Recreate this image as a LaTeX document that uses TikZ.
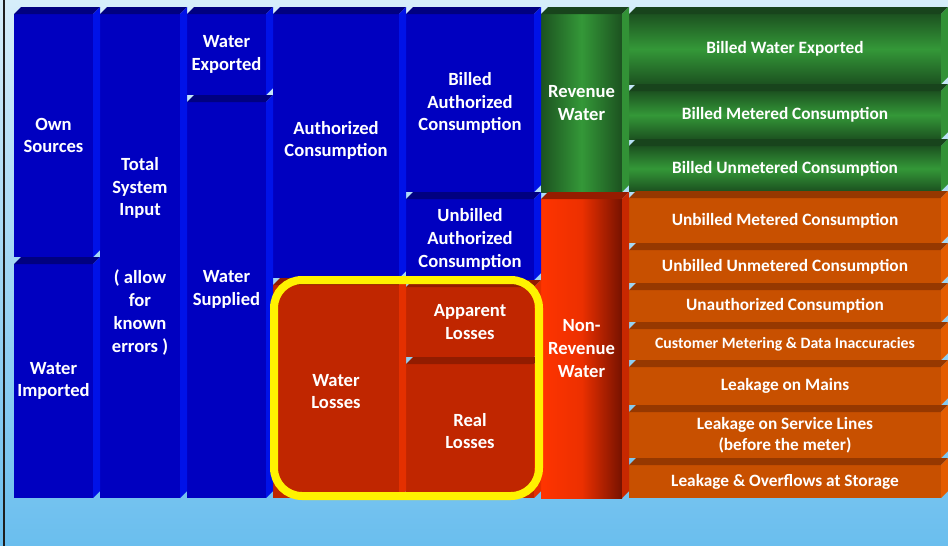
\documentclass[tikz,border=0pt]{standalone}
\usepackage{fontspec}
\setmainfont{Carlito}
\usetikzlibrary{shadings}

\definecolor{skytop}{RGB}{214,238,250}
\definecolor{skybot}{RGB}{106,190,238}
\definecolor{frameline}{RGB}{30,30,30}
\definecolor{blueface}{RGB}{0,0,192}
\definecolor{bluetop}{RGB}{0,0,128}
\definecolor{blueside}{RGB}{0,18,232}
\definecolor{grdark}{RGB}{28,82,32}
\definecolor{grlight}{RGB}{52,152,56}
\definecolor{grtop}{RGB}{24,68,28}
\definecolor{grside}{RGB}{50,146,54}
\definecolor{nrwleft}{RGB}{255,52,0}
\definecolor{nrwmid}{RGB}{236,48,0}
\definecolor{nrwright}{RGB}{118,18,0}
\definecolor{nrwtop}{RGB}{150,28,0}
\definecolor{nrwside}{RGB}{200,40,0}
\definecolor{orface}{RGB}{200,80,0}
\definecolor{ortop}{RGB}{150,56,0}
\definecolor{orside}{RGB}{228,92,0}
\definecolor{lossface}{RGB}{192,38,0}
\definecolor{losstop}{RGB}{146,28,0}
\definecolor{lossside}{RGB}{228,48,0}

\tikzstyle{cell} = [inner sep=0, outer sep=0, anchor=north west, align=center, text=white, font=\bfseries\fontsize{18.6}{22.8}\selectfont]
\tikzstyle{bluecell} = [cell, fill=blueface]
\tikzstyle{losscell} = [cell, fill=lossface]
\tikzstyle{rowtext} = [font=\bfseries\fontsize{17.3}{21}\selectfont, minimum width=312pt]
\tikzstyle{greenrow} = [cell, rowtext, top color=grdark, bottom color=grdark, middle color=grlight]
\tikzstyle{orangerow} = [cell, rowtext, fill=orface]
\tikzstyle{lossframe} = [draw=yellow, line width=8pt, rounded corners=28pt]

% top and right faces of a block: node, top colour, side colour
\newcommand{\bevel}[3]{%
  \fill[#2] (#1.north west) -- ++(7pt,7pt) -- ([shift={(7pt,7pt)}]#1.north east) -- (#1.north east) -- cycle;
  \fill[#3] (#1.north east) -- ++(7pt,7pt) -- ([shift={(7pt,7pt)}]#1.south east) -- (#1.south east) -- cycle;
}

\begin{document}
\begin{tikzpicture}[x=1pt, y=-1pt]
  \useasboundingbox (0,0) rectangle (948,546);
  \shade[top color=skytop, bottom color=skybot] (0,0) rectangle (948,546);
  \draw[line width=2pt, frameline] (4,0) -- (4,546);

  % input side
  \node[bluecell, minimum width=79pt, minimum height=243pt] (own) at (14,14) {Own\\Sources};
  \node[bluecell, minimum width=79pt, minimum height=234pt] (imported) at (14,264) {Water\\Imported};
  \node[bluecell, minimum width=80pt, minimum height=484pt] (tsi) at (100,14) {Total\\System\\Input\\[45pt]( allow\\for\\known\\errors )};
  \node[bluecell, minimum width=79pt, minimum height=81pt] (exported) at (187,14) {Water\\Exported};
  \node[bluecell, minimum width=79pt, minimum height=396pt, text depth=24pt] (supplied) at (187,102) {Water\\Supplied};

  % consumption and losses
  \node[bluecell, minimum width=126pt, minimum height=264pt, text depth=14pt] (auth) at (273,14) {Authorized\\Consumption};
  \node[losscell, minimum width=126pt, minimum height=213pt] (losses) at (273,285) {Water\\Losses};
  \node[bluecell, minimum width=128pt, minimum height=178pt] (bauth) at (406,14) {Billed\\Authorized\\Consumption};
  \node[bluecell, minimum width=128pt, minimum height=81pt] (ubauth) at (406,199) {Unbilled\\Authorized\\Consumption};
  \node[losscell, minimum width=128pt, minimum height=70pt] (apparent) at (406,287) {Apparent\\Losses};
  \node[losscell, minimum width=128pt, minimum height=134pt] (real) at (406,364) {Real\\Losses};

  % revenue
  \node[cell, minimum width=81pt, minimum height=178pt, left color=grdark, right color=grdark, middle color=grlight] (revenue) at (541,14) {Revenue\\Water};
  \node[cell, minimum width=81pt, minimum height=299pt, left color=nrwleft, right color=nrwright, middle color=nrwmid] (nrw) at (541,199) {Non-\\Revenue\\Water};

  % components
  \node[greenrow, minimum height=70pt] (bwe) at (629,14) {Billed Water Exported};
  \node[greenrow, minimum height=48pt] (bmc) at (629,91) {Billed Metered Consumption};
  \node[greenrow, minimum height=45pt] (buc) at (629,146) {Billed Unmetered Consumption};
  \node[orangerow, minimum height=45pt] (umc) at (629,198) {Unbilled Metered Consumption};
  \node[orangerow, minimum height=33pt] (uuc) at (629,250) {Unbilled Unmetered Consumption};
  \node[orangerow, minimum height=32pt] (unauth) at (629,290) {Unauthorized Consumption};
  \node[orangerow, minimum height=31pt, font=\bfseries\fontsize{15.8}{18}\selectfont] (meter) at (629,329) {Customer Metering \& Data Inaccuracies};
  \node[orangerow, minimum height=38pt] (mains) at (629,367) {Leakage on Mains};
  \node[orangerow, minimum height=46pt] (service) at (629,412) {Leakage on Service Lines\\(before the meter)};
  \node[orangerow, minimum height=33pt] (storage) at (629,465) {Leakage \& Overflows at Storage};

  % 3d faces
  \foreach \n in {own, imported, tsi, exported, supplied, auth, bauth, ubauth}
    {\bevel{\n}{bluetop}{blueside}}
  \foreach \n in {losses, apparent, real}
    {\bevel{\n}{losstop}{lossside}}
  \foreach \n in {revenue, bwe, bmc, buc}
    {\bevel{\n}{grtop}{grside}}
  \bevel{nrw}{nrwtop}{nrwside}
  \foreach \n in {umc, uuc, unauth, meter, mains, service, storage}
    {\bevel{\n}{ortop}{orside}}

  \draw[lossframe] ([shift={(1pt,5pt)}]losses.north west) rectangle ([shift={(5pt,2pt)}]real.south east);
\end{tikzpicture}
\end{document}
